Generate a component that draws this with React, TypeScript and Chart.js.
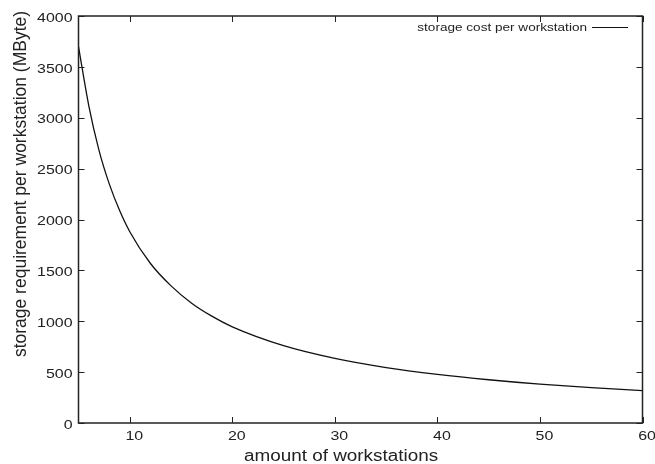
import React, { useEffect, useRef } from "react";
import { Chart, registerables } from "chart.js";

Chart.register(...registerables);

const workstations = [5, 6, 7, 8, 9, 10, 12, 14, 16, 18, 20, 25, 30, 35, 40, 45, 50, 55, 60];
const storagePerWorkstation = [3700, 3120, 2680, 2350, 2090, 1880, 1570, 1350, 1180, 1050, 945, 760, 635, 545, 478, 425, 382, 348, 318];
const xTicks = [10, 20, 30, 40, 50, 60];
const yTicks = [0, 500, 1000, 1500, 2000, 2500, 3000, 3500, 4000];
const seriesLabel = "storage cost per workstation";
const xTitle = "amount of workstations";
const yTitle = "storage requirement per workstation (MByte)";

const FONT = "'Liberation Sans', Arial, Helvetica, sans-serif";
const STRETCH = 1.18;
const TEXT = "#222";

function stretchedText(ctx: any, text: string, x: number, y: number, size: number, align: string, baseline: string) {
  ctx.save();
  ctx.font = `${size}px ${FONT}`;
  ctx.textAlign = align;
  ctx.textBaseline = baseline;
  ctx.translate(x, y);
  ctx.scale(STRETCH, 1);
  ctx.fillText(text, 0, 0);
  ctx.restore();
}

const framePlugin = {
  id: "frameTicks",
  afterDraw(chart: any) {
    const { ctx, chartArea: a, scales } = chart;
    const xs = scales.x;
    const ys = scales.y;
    ctx.save();
    ctx.strokeStyle = "#222";
    ctx.lineWidth = 1.5;
    ctx.strokeRect(a.left, a.top, a.right - a.left, a.bottom - a.top);
    ctx.lineWidth = 1;
    const tl = 6;
    ctx.beginPath();
    for (const v of xTicks) {
      const px = Math.round(xs.getPixelForValue(v)) + 0.5;
      ctx.moveTo(px, a.bottom);
      ctx.lineTo(px, a.bottom - tl);
      ctx.moveTo(px, a.top);
      ctx.lineTo(px, a.top + tl);
    }
    for (const v of yTicks) {
      const py = Math.round(ys.getPixelForValue(v)) + 0.5;
      ctx.moveTo(a.left, py);
      ctx.lineTo(a.left + tl, py);
      ctx.moveTo(a.right, py);
      ctx.lineTo(a.right - tl, py);
    }
    ctx.stroke();

    ctx.fillStyle = TEXT;
    // tick labels
    for (const v of xTicks) {
      stretchedText(ctx, String(v), xs.getPixelForValue(v) + 4.5, a.bottom + 17, 13.5, "center", "alphabetic");
    }
    for (const v of yTicks) {
      stretchedText(ctx, String(v), a.left - 6, ys.getPixelForValue(v) + 2, 13.5, "right", "middle");
    }
    // x title
    stretchedText(ctx, xTitle, 341, 460.5, 16, "center", "alphabetic");
    // y title
    ctx.save();
    ctx.font = `17.5px ${FONT}`;
    ctx.textAlign = "center";
    ctx.textBaseline = "middle";
    ctx.translate(21, 184);
    ctx.rotate(-Math.PI / 2);
    ctx.fillText(yTitle, 0, 0);
    ctx.restore();

    // legend
    const ly = 27.5;
    const lineEnd = 628;
    const lineStart = 592;
    stretchedText(ctx, seriesLabel, lineStart - 5, 31, 11.5, "right", "alphabetic");
    ctx.strokeStyle = "#111";
    ctx.lineWidth = 1.2;
    ctx.beginPath();
    ctx.moveTo(lineStart, ly);
    ctx.lineTo(lineEnd, ly);
    ctx.stroke();
    ctx.restore();
  },
};

export default function App() {
  const ref = useRef<HTMLCanvasElement>(null);
  useEffect(() => {
    document.body.style.margin = "0";
    const canvas = ref.current!;
    const chart = new Chart(canvas, {
      type: "line",
      data: {
        datasets: [
          {
            label: seriesLabel,
            data: workstations.map((x, i) => ({ x, y: storagePerWorkstation[i] })),
            borderColor: "#111",
            borderWidth: 1.3,
            pointRadius: 0,
            cubicInterpolationMode: "monotone",
            fill: false,
          },
        ],
      },
      options: {
        animation: false,
        responsive: false,
        maintainAspectRatio: false,
        layout: { padding: { left: 0, right: 12.5, top: 16, bottom: 0 } },
        plugins: { legend: { display: false }, tooltip: { enabled: false } },
        scales: {
          x: {
            type: "linear",
            min: 5,
            max: 60,
            afterBuildTicks: (s: any) => {
              s.ticks = xTicks.map((v) => ({ value: v }));
            },
            afterFit: (s: any) => {
              s.height = 41;
            },
            grid: { display: false, drawTicks: false },
            border: { display: false },
            ticks: { display: false },
            title: { display: false },
          },
          y: {
            type: "linear",
            min: 0,
            max: 4000,
            afterBuildTicks: (s: any) => {
              s.ticks = yTicks.map((v) => ({ value: v }));
            },
            afterFit: (s: any) => {
              s.width = 78.5;
            },
            grid: { display: false, drawTicks: false },
            border: { display: false },
            ticks: { display: false },
            title: { display: false },
          },
        },
      },
      plugins: [framePlugin],
    } as any);
    return () => chart.destroy();
  }, []);
  return (
    <div style={{ width: 655, height: 464 }}>
      <canvas ref={ref} width={655} height={464} style={{ display: "block" }} />
    </div>
  );
}
